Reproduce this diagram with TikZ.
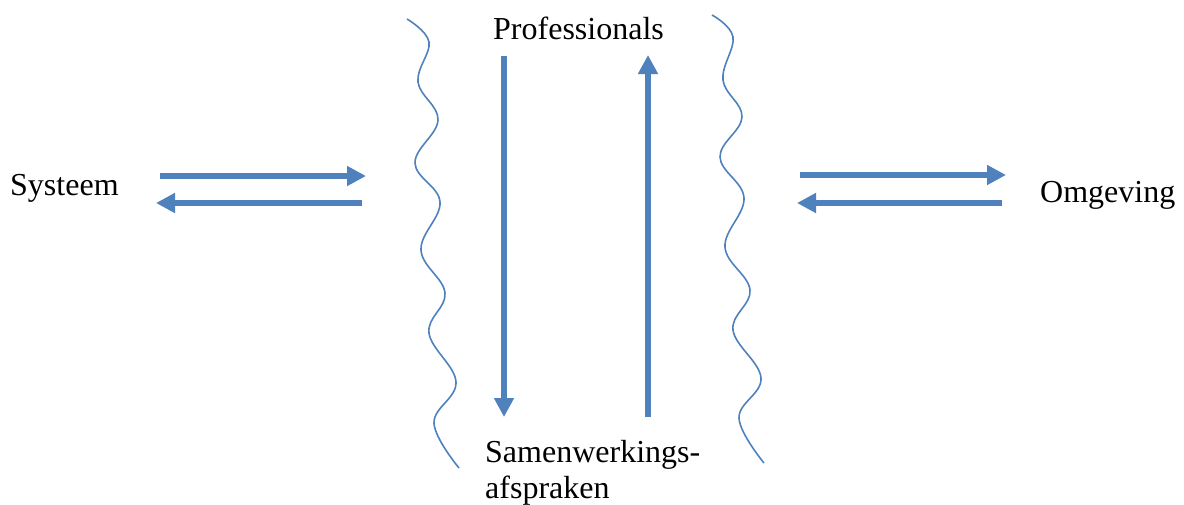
\documentclass[tikz,border=0pt]{standalone}
\usepackage{fontspec}
\setmainfont{Liberation Serif}
\usetikzlibrary{arrows.meta}
\definecolor{ablue}{HTML}{4F81BD}
\tikzset{
  fatarrow/.style={draw=ablue, line width=6.5pt, -{Triangle[length=19pt,width=19pt]}},
  wave/.style={draw=ablue, line width=1.6pt},
  lbl/.style={anchor=base west, inner sep=0pt, font=\fontsize{32}{36}\selectfont}
}
\begin{document}
\begin{tikzpicture}[x=1pt,y=-1pt]
\useasboundingbox (0,0) rectangle (1184,504);
% labels
\node[lbl] (sys) at (10,195) {Systeem};
\node[lbl] (omg) at (1040,202) {Omgeving};
\node[lbl] (prof) at (493,39) {Professionals};
\node[lbl] (sam) at (485,462) {Samenwerkings-};
\node[lbl] (afs) at (485,498) {afspraken};
% arrow end points
\coordinate (l1s) at (160,176); \coordinate (l1e) at (366,176);
\coordinate (l2s) at (362,203); \coordinate (l2e) at (156,203);
\coordinate (r1s) at (800,175); \coordinate (r1e) at (1006,175);
\coordinate (r2s) at (1002,203); \coordinate (r2e) at (797,203);
\coordinate (ds) at (504,56); \coordinate (de) at (504,417);
\coordinate (us) at (648,417); \coordinate (ue) at (648,55);
\draw[fatarrow] (l1s) -- (l1e);
\draw[fatarrow] (l2s) -- (l2e);
\draw[fatarrow] (r1s) -- (r1e);
\draw[fatarrow] (r2s) -- (r2e);
\draw[fatarrow] (ds) -- (de);
\draw[fatarrow] (us) -- (ue);
% waves
\draw[wave] plot[smooth, tension=0.65] coordinates {(407,19) (429,42) (418,82) (438,120) (415,163) (440,202) (421,250) (445,293) (429,333) (456,382) (434,423) (459,468)};
\draw[wave] plot[smooth, tension=0.65] coordinates {(712,15) (733,37) (723,80) (742,117) (720,157) (744,198) (725,247) (750,290) (733,330) (761,378) (739,418) (764,463)};
\end{tikzpicture}
\end{document}
